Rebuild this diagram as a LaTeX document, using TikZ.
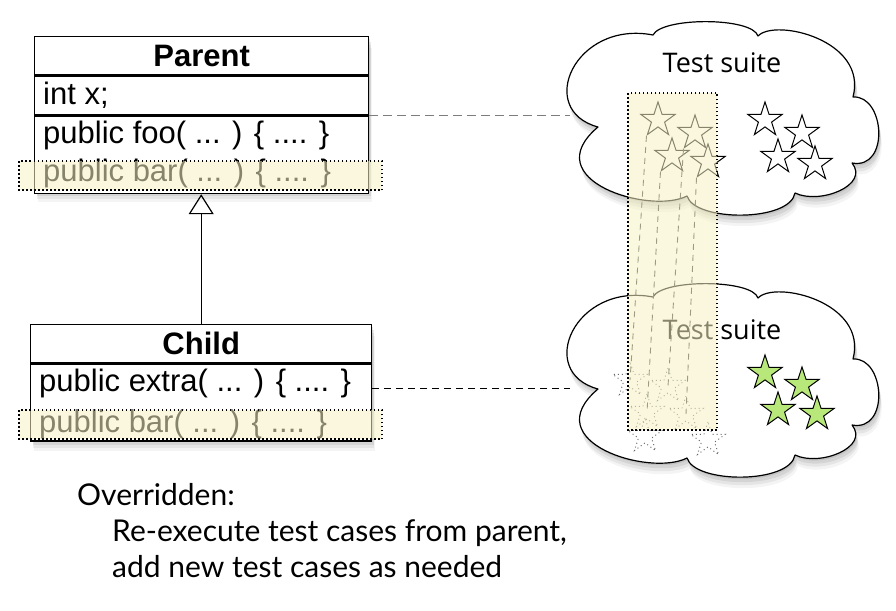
\documentclass[tikz,border=0pt]{standalone}
\usepackage{fontspec}
\newfontfamily\arialf{Liberation Sans}
\newfontfamily\suitef{Open Sans}
\newfontfamily\optf{Lato}
\usetikzlibrary{shapes.geometric,shadows,arrows.meta}
\definecolor{hl}{RGB}{246,242,196}
\definecolor{starg}{RGB}{184,232,122}
\definecolor{lgray}{RGB}{125,125,125}
\begin{document}
\begin{tikzpicture}[x=1pt,y=-1pt,
  softshadow/.style={
    drop shadow={opacity=.20,shadow xshift=1pt,shadow yshift=-2pt},
    drop shadow={opacity=.17,shadow xshift=2pt,shadow yshift=-5pt},
    drop shadow={opacity=.13,shadow xshift=2pt,shadow yshift=-8pt},
    drop shadow={opacity=.09,shadow xshift=3pt,shadow yshift=-11pt}},
  comp/.style={draw, line width=1.4pt, fill=white, inner sep=0pt, anchor=north west, font=\arialf\fontsize{31}{36}\selectfont},
  mtext/.style={anchor=base west, inner sep=0pt, font=\arialf\fontsize{31}{36}\selectfont},
  cloudline/.style={draw, line width=1.2pt, fill=white, line join=round, softshadow},
  suite/.style={anchor=base, inner sep=0pt, font=\suitef\fontsize{27}{32}\selectfont},
  astar/.style={star, star points=5, star point ratio=2.6, minimum size=36pt, inner sep=0pt, draw, line width=1pt},
  gstar/.style={astar, fill=starg},
  dstar/.style={astar, draw=black!60, line width=0.9pt, dash pattern=on 1pt off 3pt},
  trail/.style={draw=black!80, line width=0.9pt, dash pattern=on 6pt off 5pt},
  hilite/.style={fill=hl, fill opacity=0.55, draw=black, line width=1.3pt, dash pattern=on 1.5pt off 2.5pt},
  optt/.style={anchor=base west, inner sep=0pt, font=\optf\fontsize{30}{34}\selectfont}
]
\useasboundingbox (0,0) rectangle (896,610);

% clouds (same outline, the second one shifted down)
\foreach \dy/\nm in {0/tc, 262/bc}{
  \begin{scope}[yshift=-\dy pt]
  \path[cloudline] (598,127)
    .. controls (535,110) and (575,20) .. (653,35)
    .. controls (662,17) and (752,17) .. (758,36)
    .. controls (775,18) and (868,40) .. (853,97)
    .. controls (885,95) and (890,170) .. (852,163)
    .. controls (870,185) and (820,205) .. (795,193)
    .. controls (790,222) and (695,222) .. (687,196)
    .. controls (650,215) and (535,180) .. (598,127) -- cycle;
  \coordinate (\nm w) at (570,117);
  \end{scope}
}
\node[suite] (tsuite) at (722,73) {Test suite};
\node[suite] (bsuite) at (722,339) {Test suite};

% stars of the parent's test suite
\node[astar] (t1) at (658,120) {};
\node[astar] (t2) at (695,133) {};
\node[astar] (t3) at (672,156) {};
\node[astar] (t4) at (708,162) {};
\node[astar] (r1) at (765,120) {};
\node[astar] (r2) at (802,133) {};
\node[astar] (r3) at (778,157) {};
\node[astar] (r4) at (815,164) {};

% green stars
\node[gstar] (g1) at (765,373) {};
\node[gstar] (g2) at (802,385) {};
\node[gstar] (g3) at (778,410) {};
\node[gstar] (g4) at (817,414) {};

% re-executed (dissolving) stars
\node[dstar] (b1) at (630,380) {};
\node[dstar] (b2) at (668,386) {};
\node[dstar] (b3) at (647,412) {};
\node[dstar] (b4) at (686,414) {};
\node[dstar] (b5) at (645,436) {};
\node[dstar] (b6) at (708,440) {};

\draw[trail] (t1.outer point 3) -- (b1.center);
\draw[trail] (t2.outer point 3) -- (b2.center);
\draw[trail] (t3.outer point 3) -- (b3.center);
\draw[trail] (t4.outer point 3) -- (b4.center);

% Parent class
\node[comp, softshadow, minimum width=334pt, minimum height=154pt] (pbox) at (34,36) {};
\node[comp, minimum width=334pt, minimum height=38pt] (phead) at (34,36) {\bfseries Parent};
\node[comp, minimum width=334pt, minimum height=39pt] (pattr) at (phead.south west) {};
\node[comp, minimum width=334pt, minimum height=77pt] (pmeth) at (pattr.south west) {};
\node[mtext] (px) at (43,104) {int x;};
\node[mtext] (pfoo) at (43,143) {public foo( ... ) \{ .... \}};
\node[mtext] (pbar) at (43,181) {public bar( ... ) \{ .... \}};

% Child class
\node[comp, softshadow, minimum width=341pt, minimum height=115pt] (cbox) at (30,324) {};
\node[comp, minimum width=341pt, minimum height=38pt] (chead) at (30,324) {\bfseries Child};
\node[comp, minimum width=341pt, minimum height=77pt] (cmeth) at (chead.south west) {};
\node[mtext] (cext) at (39,391) {public extra( ... ) \{ .... \}};
\node[mtext] (cbar) at (39,432) {public bar( ... ) \{ .... \}};

% inheritance
\draw[line width=1.2pt, -{Triangle[open, width=25pt, length=20pt, line width=1.2pt]}]
  (chead.north) -- (chead.north |- pmeth.south);

% links to test suites
\draw[lgray, line width=1.3pt, dash pattern=on 9pt off 5pt]
  (pattr.south east) -- (pattr.south east -| tcw);
\coordinate (cl) at (cmeth.east |- cext.mid);
\draw[black, line width=1.2pt, dash pattern=on 7pt off 5pt]
  (cl) -- (cl -| bcw);

% highlights
\path[hilite] (628,93) rectangle (717,430);
\path[hilite] (19,161) rectangle (382,190);
\path[hilite] (19,410) rectangle (382,439);

% caption
\node[optt] (ov1) at (77,505) {Overridden:};
\node[optt] (ov2) at (112,541) {Re-execute test cases from parent,};
\node[optt] (ov3) at (112,577) {add new test cases as needed};
\end{tikzpicture}
\end{document}
